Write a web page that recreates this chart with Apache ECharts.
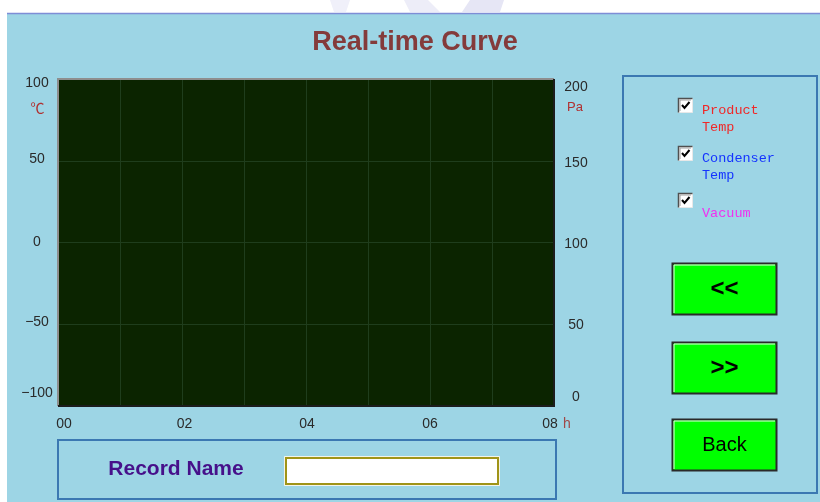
<!DOCTYPE html>
<html>
<head>
<meta charset="utf-8">
<script src="https://cdn.jsdelivr.net/npm/echarts@6/dist/echarts.min.js"></script>
<style>
html,body{margin:0;padding:0;background:#fff;}
#c{width:820px;height:502px;}
</style>
</head>
<body>
<div id="c"></div>
<script>
// ---- data ----
const chartTitle = 'Real-time Curve';
const xTickValues = [0, 1, 2, 3, 4, 5, 6, 7, 8];
const xTickLabels = ['00', '', '02', '', '04', '', '06', '', '08'];
const tempTicks = [-100, -50, 0, 50, 100];
const pressureTicks = [0, 50, 100, 150, 200];
const tempUnit = '℃';
const pressureUnit = 'Pa';
const timeUnit = 'h';
const seriesNames = ['Product Temp', 'Condenser Temp', 'Vacuum'];
const legendLines = [['Product', 'Temp'], ['Condenser', 'Temp'], ['Vacuum']];
const seriesColors = ['#F02828', '#1433FF', '#F030F0'];
// no curve is recorded in the reference: every series is empty
const productTemp = [];
const condenserTemp = [];
const vacuum = [];
const buttonLabels = ['<<', '>>', 'Back'];
const recordLabel = 'Record Name';

// ---- layout ----
const G = {left: 58, top: 79, width: 496, height: 327};
const tickFont = 'Liberation Sans';

function padRich(offset, extra) {
  const p = [0, 0, 0, 0];
  if (offset > 0) p[0] = 2 * offset; else if (offset < 0) p[2] = -2 * offset;
  return Object.assign({padding: p}, extra || {});
}
const leftOffsets = {'100': 4, '50': -2, '0': 0, '-50': -2, '-100': -13};
const rightOffsets = {'200': 8, '150': 2, '100': 2, '50': 1, '0': -9};
const xOffsets = {'0': 6, '2': 2.5, '4': 1, '6': 0, '8': -4};

function makeRich(map, horizontal) {
  const rich = {};
  Object.keys(map).forEach(function (k, i) {
    const o = map[k];
    if (horizontal) {
      const pad = [0, 0, 0, 0];
      if (o > 0) pad[3] = 2 * o; else if (o < 0) pad[1] = -2 * o;
      rich['r' + i] = {padding: pad, fontFamily: tickFont, fontSize: 14, color: '#2a2a2a'};
    } else {
      rich['r' + i] = padRich(o, {fontFamily: tickFont, fontSize: 14, color: '#2a2a2a'});
    }
  });
  return rich;
}
const leftRich = makeRich(leftOffsets, false);
const rightRich = makeRich(rightOffsets, false);
const xRich = makeRich(xOffsets, true);
function tag(map, v, text) {
  const keys = Object.keys(map);
  const i = keys.indexOf(String(v));
  return i < 0 ? text : '{r' + i + '|' + text + '}';
}
function fmtNum(v) { return String(v).replace('-', '\u2212'); }

// ---- graphics ----
const graphics = [];
graphics.push({type: 'rect', z: -100, shape: {x: 7, y: 13, width: 813, height: 489}, style: {fill: '#9DD5E5'}});
graphics.push({type: 'line', z: -99, shape: {x1: 7, y1: 13.5, x2: 820, y2: 13.5}, style: {stroke: '#7E8DD6', lineWidth: 1.5}});
// faint watermark at the top
graphics.push({type: 'polygon', z: -100, shape: {points: [[330, 0], [350, 0], [346, 12], [334, 12]]}, style: {fill: '#F0F0FA'}});
graphics.push({type: 'polygon', z: -100, shape: {points: [[404, 0], [428, 0], [440, 12], [410, 12]]}, style: {fill: '#EDEDF8'}});
graphics.push({type: 'polygon', z: -100, shape: {points: [[470, 0], [504, 0], [500, 12], [462, 12]]}, style: {fill: '#E6E6F5'}});
// title
graphics.push({type: 'text', x: 415, y: 43, style: {text: chartTitle, fill: '#843B3B', font: 'bold 27px "Liberation Sans", Arial, sans-serif', align: 'center', verticalAlign: 'middle'}});
// plot bevel
graphics.push({type: 'polyline', z: 100, shape: {points: [[G.left, G.top + G.height], [G.left, G.top], [G.left + G.width, G.top]]}, style: {stroke: '#8E8E8E', lineWidth: 2, fill: null}});
graphics.push({type: 'polyline', z: 100, shape: {points: [[G.left + G.width, G.top], [G.left + G.width, G.top + G.height], [G.left, G.top + G.height]]}, style: {stroke: '#1C1C1C', lineWidth: 2, fill: null}});
// units
graphics.push({type: 'text', x: 37.5, y: 108, style: {text: tempUnit, fill: '#B03030', font: '14px "Noto Sans CJK SC", sans-serif', align: 'center', verticalAlign: 'middle'}});
graphics.push({type: 'text', x: 575, y: 107, style: {text: pressureUnit, fill: '#B03030', font: '13px "Liberation Sans", sans-serif', align: 'center', verticalAlign: 'middle'}});
graphics.push({type: 'text', x: 563, y: 424, style: {text: timeUnit, fill: '#A04848', font: '14px "Liberation Sans", sans-serif', align: 'left', verticalAlign: 'middle'}});
// right panel
graphics.push({type: 'rect', shape: {x: 623, y: 76, width: 194, height: 417}, style: {fill: null, stroke: '#3B78B2', lineWidth: 2}});
// legend check boxes
const boxYs = [98, 146, 193];
const lineYs = [[110, 127], [158, 175], [213]];
legendLines.forEach(function (lines, i) {
  const by = boxYs[i];
  graphics.push({type: 'rect', shape: {x: 678.5, y: by + 0.5, width: 14, height: 14}, style: {fill: '#FFFFFF', stroke: '#E8E8E8', lineWidth: 1}});
  graphics.push({type: 'polyline', shape: {points: [[678.5, by + 14.5], [678.5, by + 0.5], [692.5, by + 0.5]]}, style: {stroke: '#505050', lineWidth: 1.5, fill: null}});
  graphics.push({type: 'polyline', shape: {points: [[680, by + 13], [680, by + 2], [691, by + 2]]}, style: {stroke: '#A0A0A0', lineWidth: 1, fill: null}});
  graphics.push({type: 'polyline', shape: {points: [[682, by + 7], [684.5, by + 10], [689.5, by + 4]]}, style: {stroke: '#000', lineWidth: 2, fill: null}});
  lines.forEach(function (t, j) {
    graphics.push({type: 'text', x: 702, y: lineYs[i][j], style: {text: t, fill: seriesColors[i], font: '13.5px "Liberation Mono", monospace', align: 'left', verticalAlign: 'middle'}});
  });
});
// buttons
const btnYs = [263, 342, 419];
buttonLabels.forEach(function (t, i) {
  const y = btnYs[i];
  graphics.push({type: 'rect', shape: {x: 672.5, y: y + 0.5, width: 104, height: 51}, style: {fill: '#00FF00', stroke: '#2A2A2A', lineWidth: 2}});
  graphics.push({type: 'polyline', shape: {points: [[674, y + 50], [674, y + 2], [775, y + 2]]}, style: {stroke: '#E8FFE8', lineWidth: 1, fill: null}});
  const bold = i < 2;
  graphics.push({type: 'text', x: 724.5, y: y + 26, style: {text: t, fill: '#000', font: (bold ? 'bold 24px' : '20px') + ' "Liberation Sans", Arial, sans-serif', align: 'center', verticalAlign: 'middle'}});
});
// record name box
graphics.push({type: 'rect', shape: {x: 58, y: 440, width: 498, height: 59}, style: {fill: null, stroke: '#3B78B2', lineWidth: 2}});
graphics.push({type: 'text', x: 176, y: 469, style: {text: recordLabel, fill: '#46108A', font: 'bold 21px "Liberation Sans", Arial, sans-serif', align: 'center', verticalAlign: 'middle'}});
graphics.push({type: 'rect', shape: {x: 284.5, y: 456.5, width: 215, height: 29}, style: {fill: '#FFFFFF', stroke: '#F4F4E8', lineWidth: 1}});
graphics.push({type: 'rect', shape: {x: 286, y: 458, width: 212, height: 26}, style: {fill: '#FFFFFF', stroke: '#A09418', lineWidth: 2}});

const chart = echarts.init(document.getElementById('c'), null, {renderer: 'canvas'});
chart.setOption({
  backgroundColor: '#FFFFFF',
  animation: false,
  grid: {left: G.left, top: G.top, width: G.width, height: G.height, show: true, backgroundColor: '#0B2400', borderWidth: 0, containLabel: false},
  xAxis: {
    type: 'value', min: xTickValues[0], max: xTickValues[xTickValues.length - 1], interval: 1,
    axisLine: {show: false}, axisTick: {show: false},
    splitLine: {show: true, lineStyle: {color: '#1F3D1C', width: 1}},
    axisLabel: {
      margin: 11, fontFamily: tickFont, fontSize: 14, color: '#2a2a2a', rich: xRich,
      formatter: function (v) { const i = xTickValues.indexOf(v); const t = i >= 0 ? xTickLabels[i] : ''; return t ? tag(xOffsets, v, t) : ''; }
    }
  },
  yAxis: [{
    type: 'value', position: 'left', min: tempTicks[0], max: tempTicks[tempTicks.length - 1], interval: 50,
    axisLine: {show: false}, axisTick: {show: false},
    splitLine: {show: true, lineStyle: {color: '#1F3D1C', width: 1}},
    axisLabel: {margin: 21, align: 'center', fontFamily: tickFont, fontSize: 14, color: '#2a2a2a', rich: leftRich,
      formatter: function (v) { return tempTicks.indexOf(v) >= 0 ? tag(leftOffsets, v, fmtNum(v)) : ''; }}
  }, {
    type: 'value', position: 'right', min: pressureTicks[0], max: pressureTicks[pressureTicks.length - 1], interval: 50,
    axisLine: {show: false}, axisTick: {show: false}, splitLine: {show: false},
    axisLabel: {margin: 22, align: 'center', fontFamily: tickFont, fontSize: 14, color: '#2a2a2a', rich: rightRich,
      formatter: function (v) { return pressureTicks.indexOf(v) >= 0 ? tag(rightOffsets, v, fmtNum(v)) : ''; }}
  }],
  series: [
    {name: seriesNames[0], type: 'line', yAxisIndex: 0, data: productTemp, showSymbol: false, lineStyle: {color: seriesColors[0]}},
    {name: seriesNames[1], type: 'line', yAxisIndex: 0, data: condenserTemp, showSymbol: false, lineStyle: {color: seriesColors[1]}},
    {name: seriesNames[2], type: 'line', yAxisIndex: 1, data: vacuum, showSymbol: false, lineStyle: {color: seriesColors[2]}}
  ],
  graphic: {elements: graphics}
});
</script>
</body>
</html>
